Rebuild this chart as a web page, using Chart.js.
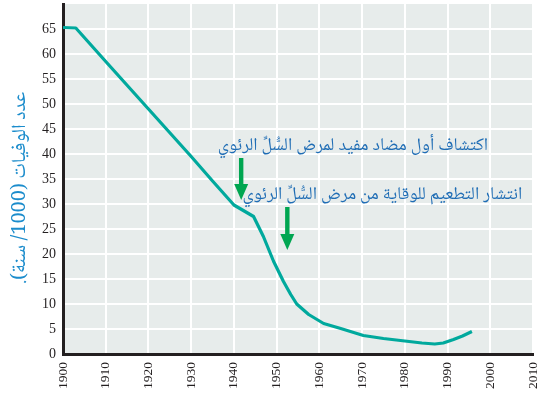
<!DOCTYPE html>
<html>
<head>
<meta charset="utf-8">
<script src="https://cdn.jsdelivr.net/npm/chart.js@4.4.1/dist/chart.umd.min.js"></script>
<style>
html,body{margin:0;padding:0;background:#fff;}
#wrap{width:540px;height:398px;}
</style>
</head>
<body>
<div id="wrap"><canvas id="c" width="540" height="398"></canvas></div>
<script>
// Data
const years  = [1900, 1903, 1910, 1920, 1930, 1935, 1940, 1944.6, 1946.9, 1949.3, 1951.6, 1953.3, 1954.7, 1957.5, 1961, 1965, 1970.3, 1975, 1980, 1984, 1987, 1989, 1991.4, 1993.5, 1995.7];
const deaths = [65.3, 65.2, 58.5, 49.0, 39.5, 34.6, 29.8, 27.5, 23.5, 18.5, 14.5, 11.9, 10.0, 7.9, 6.1, 5.1, 3.7, 3.1, 2.6, 2.2, 2.0, 2.2, 2.9, 3.6, 4.5];
const yearTicks = [1900, 1910, 1920, 1930, 1940, 1950, 1960, 1970, 1980, 1990, 2000, 2010];
const yTicks = [0, 5, 10, 15, 20, 25, 30, 35, 40, 45, 50, 55, 60, 65];
const yTitle = 'عدد الوفيات (1000/ سنة).';
const eventYears = [1941.7, 1952.5];
const eventLabels = ['اكتشاف أول مضاد مفيد لمرض السُّلِّ الرئوي', 'انتشار التطعيم للوقاية من مرض السُّلِّ الرئوي'];

const arabicFont = '"Noto Naskh Arabic","Noto Sans Arabic","DejaVu Sans",sans-serif';

const decor = {
  id: 'decor',
  beforeDraw(chart) {
    const {ctx, chartArea: a} = chart;
    ctx.save();
    ctx.fillStyle = '#e7eceb';
    ctx.fillRect(a.left, a.top, a.right - a.left, a.bottom - a.top);
    ctx.restore();
  },
  afterDraw(chart) {
    const {ctx} = chart;
    const xs = chart.scales.x, ys = chart.scales.y;
    const arrowSpans = [[39.2, 30.8], [29.4, 20.8]];
    const textAnchors = [[1999.5, 41.2], [2007.5, 31.4]];
    ctx.save();
    for (let i = 0; i < eventYears.length; i++) {
      const x = xs.getPixelForValue(eventYears[i]);
      const y0 = ys.getPixelForValue(arrowSpans[i][0]);
      const y1 = ys.getPixelForValue(arrowSpans[i][1]);
      ctx.fillStyle = '#00a651';
      ctx.fillRect(x - 2.2, y0, 4.4, (y1 - y0) - 14);
      ctx.beginPath();
      ctx.moveTo(x - 7, y1 - 16);
      ctx.lineTo(x + 7, y1 - 16);
      ctx.lineTo(x, y1);
      ctx.closePath();
      ctx.fill();
      ctx.direction = 'rtl';
      ctx.textAlign = 'right';
      ctx.textBaseline = 'middle';
      ctx.fillStyle = '#1f6db5';
      ctx.font = '18px ' + arabicFont;
      ctx.fillText(eventLabels[i], xs.getPixelForValue(textAnchors[i][0]), ys.getPixelForValue(textAnchors[i][1]));
    }
    // y axis title
    ctx.translate(22, 188);
    ctx.rotate(-Math.PI / 2);
    ctx.direction = 'rtl';
    ctx.textAlign = 'center';
    ctx.textBaseline = 'middle';
    ctx.fillStyle = '#1b8ccc';
    ctx.font = '20px ' + arabicFont;
    ctx.fillText(yTitle, 0, 0);
    ctx.restore();
  }
};

new Chart(document.getElementById('c'), {
  type: 'line',
  data: {
    datasets: [{
      data: years.map((y, i) => ({x: y, y: deaths[i]})),
      borderColor: '#00a99d',
      borderWidth: 3.2,
      pointRadius: 0,
      fill: false,
      tension: 0,
      borderJoinStyle: 'round',
      borderCapStyle: 'butt'
    }]
  },
  options: {
    responsive: false,
    animation: false,
    devicePixelRatio: 1,
    layout: {padding: {top: 4, right: 7, left: 0, bottom: 0}},
    plugins: {legend: {display: false}, tooltip: {enabled: false}},
    scales: {
      x: {
        type: 'linear',
        min: 1900, max: 2010,
        afterBuildTicks(s) { s.ticks = yearTicks.map(v => ({value: v})); },
        afterFit(s) { s.height = 44; s.paddingLeft = 0; s.paddingRight = 0; },
        ticks: {
          callback: v => String(v),
          minRotation: 90, maxRotation: 90,
          padding: 8,
          color: '#231f20',
          font: {family: '"Liberation Serif","Times New Roman",serif', size: 13.5}
        },
        grid: {color: '#ffffff', lineWidth: 2, drawTicks: false},
        border: {color: '#231f20', width: 3}
      },
      y: {
        min: 0, max: 70,
        afterBuildTicks(s) { s.ticks = yTicks.map(v => ({value: v})); },
        afterFit(s) { s.width = 63; s.paddingTop = 0; s.paddingBottom = 0; },
        ticks: {
          callback: v => String(v),
          padding: 7,
          color: '#231f20',
          font: {family: '"Liberation Serif","Times New Roman",serif', size: 14}
        },
        grid: {color: '#ffffff', lineWidth: 2, drawTicks: false},
        border: {color: '#231f20', width: 3}
      }
    }
  },
  plugins: [decor]
});
</script>
</body>
</html>
